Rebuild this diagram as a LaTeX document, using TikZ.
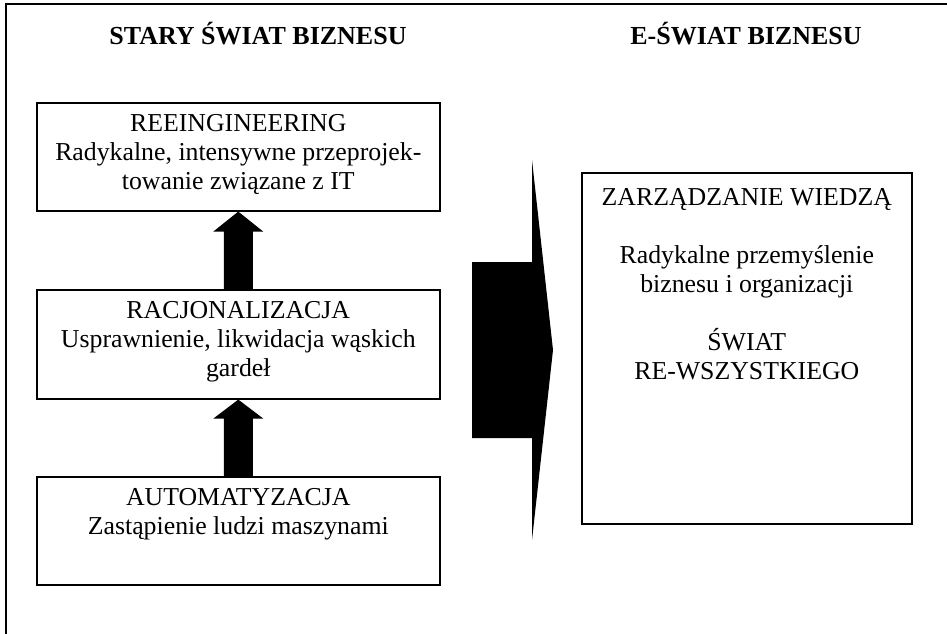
\documentclass[tikz,border=0pt]{standalone}
\usepackage{fontspec}
\setmainfont{Liberation Serif}
\usetikzlibrary{calc}
\begin{document}
\begin{tikzpicture}[x=1pt,y=-1pt,
  box/.style={draw=black, line width=1.6pt, fill=white, inner sep=0pt, anchor=north west},
  txt/.style={align=center, inner sep=0pt, anchor=base, font=\fontsize{25.8}{29}\selectfont},
  ttl/.style={inner sep=0pt, anchor=base, font=\fontsize{26}{30}\selectfont\bfseries},
  blk/.style={fill=black, draw=none},
  frame/.style={draw=black, line width=1.6pt}]
\useasboundingbox (0,0) rectangle (947,634);
\draw[frame] (6,660) -- (6,4) -- (980,4);

\node[ttl] (h1) at (258,45) {STARY ŚWIAT BIZNESU};
\node[ttl] (h2) at (746,45) {E-ŚWIAT BIZNESU};

\node[box, minimum width=403pt, minimum height=108pt] (b1) at (36,102) {};
\node[box, minimum width=403pt, minimum height=109pt] (b2) at (36,289) {};
\node[box, minimum width=403pt, minimum height=108pt] (b3) at (36,476) {};
\node[box, minimum width=330pt, minimum height=351pt] (br) at (581,172) {};

% anchor=base of a multi-line node is the baseline of its last line
\node[txt] (t1) at ($(b1.north)+(0,87)$) {REEINGINEERING\\Radykalne, intensywne przeprojek-\\towanie związane z IT};
\node[txt] (t2) at ($(b2.north)+(0,87)$) {RACJONALIZACJA\\Usprawnienie, likwidacja wąskich\\gardeł};
\node[txt] (t3) at ($(b3.north)+(0,58)$) {AUTOMATYZACJA\\Zastąpienie ludzi maszynami};
\node[txt] (tr) at ($(br.north)+(0,207)$) {ZARZĄDZANIE WIEDZĄ\\[29pt]Radykalne przemyślenie\\biznesu i organizacji\\[29pt]ŚWIAT\\RE-WSZYSTKIEGO};

% up arrows
\fill[blk] (b1.south) -- ++(25,20) -- ++(-10.5,0) -- ($(b2.north)+(14.5,0)$) -- ($(b2.north)+(-14.5,0)$) -- ($(b1.south)+(-14.5,20)$) -- ++(-10.5,0) -- cycle;
\fill[blk] (b2.south) -- ++(25,19) -- ++(-10.5,0) -- ($(b3.north)+(14.5,0)$) -- ($(b3.north)+(-14.5,0)$) -- ($(b2.south)+(-14.5,19)$) -- ++(-10.5,0) -- cycle;

% big arrow
\fill[blk] (472,262) -- (532,262) -- (532,160) -- (553,350) -- (532,540) -- (532,438) -- (472,438) -- cycle;
\end{tikzpicture}
\end{document}
